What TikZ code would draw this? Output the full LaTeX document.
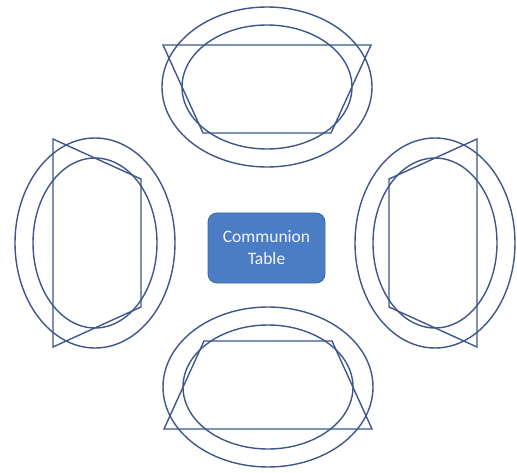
\documentclass[tikz,border=0pt]{standalone}
\usepackage{fontspec}
\setmainfont{Carlito}
\usepackage{tikz}

\definecolor{pewline}{RGB}{62,86,138}
\definecolor{tablefill}{RGB}{74,125,196}
\definecolor{tableedge}{RGB}{58,102,168}

\begin{document}
\begin{tikzpicture}[x=1pt,y=1pt,line width=1.4pt]
\useasboundingbox (0,0) rectangle (517,472);
\foreach \cx/\cy/\r in {267/385/0, 95/229/90, 268/85/180, 435/229/-90}{
  \begin{scope}[shift={(\cx,\cy)},rotate=\r,draw=pewline]
    \draw (0,0) ellipse [x radius=105pt, y radius=80pt];
    \draw (0,0) ellipse [x radius=85pt, y radius=62pt];
    \draw (-104,42) -- (104,42) -- (64,-46) -- (-64,-46) -- cycle;
  \end{scope}
}
\node[fill=tablefill,draw=tableedge,line width=0.8pt,rounded corners=9pt,
  minimum width=117pt,minimum height=70pt,text=blue!4,align=center,
  font=\fontsize{17.5}{22}\selectfont] (table) at (266.5,224) {Communion\\Table};
\end{tikzpicture}
\end{document}
